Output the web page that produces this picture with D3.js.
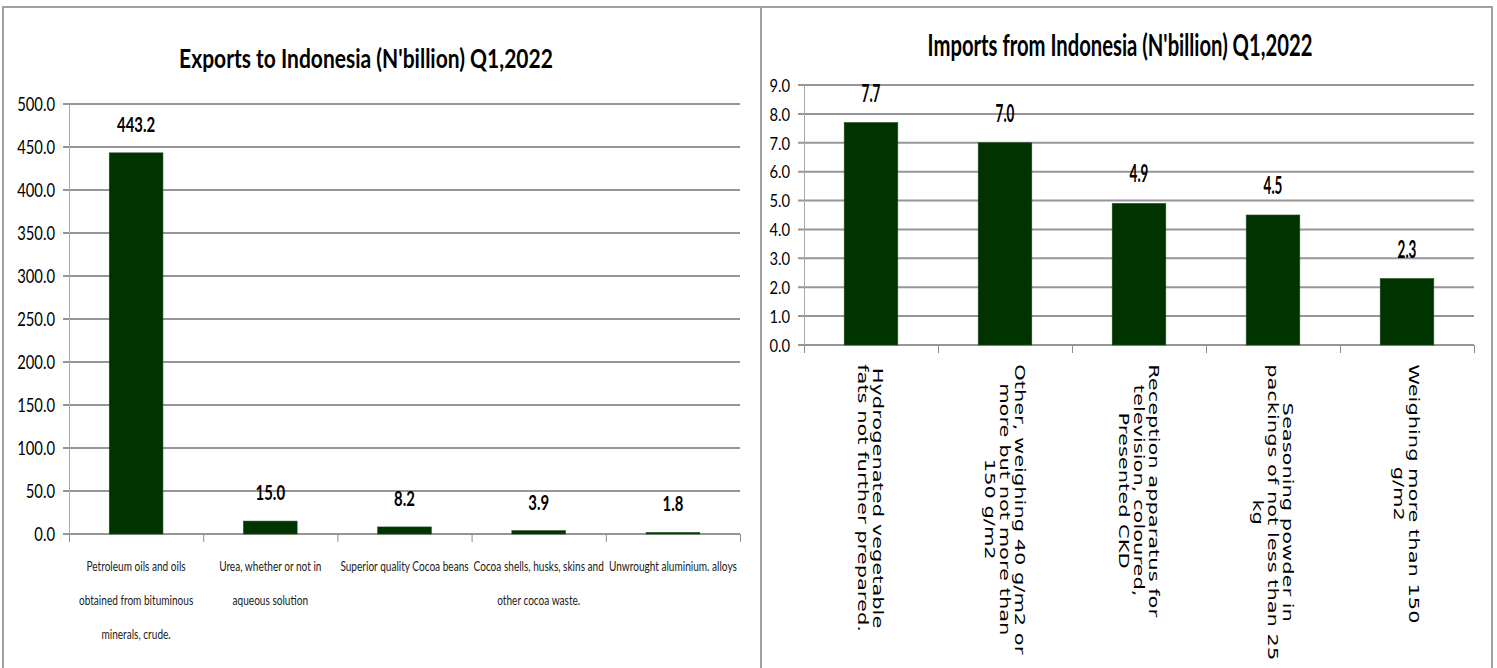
<!DOCTYPE html>
<html>
<head>
<meta charset="utf-8">
<script src="https://cdn.jsdelivr.net/npm/d3@7"></script>
<style>
  body { margin: 0; background: #fff; }
  svg { display: block; }
</style>
</head>
<body>
<svg id="chart" width="1497" height="668"></svg>
<script>
// ---- data ----
var exportTitle = "Exports to Indonesia (N'billion) Q1,2022";
var exportCategories = [
    ["Petroleum oils and oils", "obtained from bituminous", "minerals, crude."],
    ["Urea, whether or not in", "aqueous solution"],
    ["Superior quality Cocoa beans"],
    ["Cocoa shells, husks, skins and", "other cocoa waste."],
    ["Unwrought aluminium. alloys"]
];
var exportValues = [443.2, 15.0, 8.2, 3.9, 1.8];
var exportTicks = [0, 50, 100, 150, 200, 250, 300, 350, 400, 450, 500];

var importTitle = "Imports from Indonesia (N'billion) Q1,2022";
var importCategories = [
    ["Hydrogenated vegetable", "fats not further prepared."],
    ["Other, weighing 40 g/m2 or", "more but not more than", "150 g/m2"],
    ["Reception apparatus for", "television, coloured,", "Presented CKD"],
    ["Seasoning powder in", "packings of not less than 25", "kg"],
    ["Weighing more than 150", "g/m2"]
];
var importValues = [7.7, 7.0, 4.9, 4.5, 2.3];
var importTicks = [0, 1, 2, 3, 4, 5, 6, 7, 8, 9];

var svg = d3.select("#chart");
var FONT = "Lato, 'Open Sans', sans-serif";
var BAR = "#003300";
var GRID = "#969696";
var fmt = d3.format(".1f");

// panel frames
svg.append("rect").attr("x", 3).attr("y", 7).attr("width", 758).attr("height", 700)
    .attr("fill", "none").attr("stroke", "#a0a0a0").attr("stroke-width", 2);
svg.append("rect").attr("x", 761).attr("y", 7).attr("width", 731).attr("height", 700)
    .attr("fill", "none").attr("stroke", "#a0a0a0").attr("stroke-width", 2);

// squeezed text (the picture is stretched tall), anchored at x,y
function squeezed(g, str, x, y, size, sx, bold) {
    return g.append("text")
        .attr("transform", "translate(" + x + "," + y + ") scale(" + sx + ",1)")
        .attr("text-anchor", "middle")
        .style("font-family", FONT)
        .style("font-size", size + "px")
        .style("font-weight", bold ? "bold" : "normal")
        .attr("fill", "#000")
        .text(str);
}

function fitTitle(g, str, cx, y, size, width) {
    var t = squeezed(g, str, cx, y, size, 1, true);
    var w = t.node().getComputedTextLength();
    t.attr("transform", "translate(" + cx + "," + y + ") scale(" + (width / w) + ",1)");
}

function barChart(c) {
    var g = svg.append("g");
    var x = d3.scaleBand().domain(d3.range(c.values.length))
        .range([c.left, c.right]).paddingInner(0.6).paddingOuter(0.3);
    var y = d3.scaleLinear().domain([0, d3.max(c.ticks)]).range([c.bottom, c.top]);

    // gridlines with the outer tick marks
    g.append("g").selectAll("line").data(c.ticks).enter().append("line")
        .attr("x1", c.left - 6).attr("x2", c.right)
        .attr("y1", function(d) { return y(d); }).attr("y2", function(d) { return y(d); })
        .attr("stroke", GRID).attr("stroke-width", 2);

    // y axis
    var yAxis = d3.axisLeft(y).tickValues(c.ticks).tickFormat(fmt).tickSize(0).tickPadding(0);
    var ya = g.append("g").attr("transform", "translate(" + c.left + ",0)").call(yAxis);
    ya.select(".domain").attr("stroke", "#a8a8a8").attr("stroke-width", 1);
    ya.selectAll(".tick text")
        .attr("x", -c.labelGap / c.tickSx)
        .attr("dy", "0.35em")
        .attr("transform", "scale(" + c.tickSx + ",1)")
        .style("font-family", FONT).style("font-size", c.tickSize + "px").attr("fill", "#000");

    // x axis ticks on category boundaries
    var xb = d3.scaleLinear().domain([0, c.values.length]).range([c.left, c.right]);
    var xAxis = d3.axisBottom(xb).ticks(c.values.length).tickFormat("").tickSize(8).tickSizeOuter(0);
    var xa = g.append("g").attr("transform", "translate(0," + c.bottom + ")").call(xAxis);
    xa.select(".domain").remove();
    xa.selectAll(".tick line").attr("stroke", "#8c8c8c").attr("stroke-width", 1);

    // bars
    g.append("g").selectAll("rect").data(c.values).enter().append("rect")
        .attr("x", function(d, i) { return x(i); })
        .attr("width", x.bandwidth())
        .attr("y", function(d) { return y(d); })
        .attr("height", function(d) { return c.bottom - y(d); })
        .attr("fill", BAR).attr("stroke", "#1f4d1f").attr("stroke-width", 0.6);

    // data labels
    c.values.forEach(function(v, i) {
        squeezed(g, fmt(v), x(i) + x.bandwidth() / 2, y(v) - 21, c.valSize, c.valSx, true);
    });

    return {g: g, x: x, y: y};
}

// ---- left: exports ----
var left = barChart({
    left: 69, right: 740, top: 104, bottom: 534,
    values: exportValues, ticks: exportTicks,
    tickSize: 19, tickSx: 0.78, labelGap: 14,
    valSize: 21, valSx: 0.71
});
fitTitle(left.g, exportTitle, 366, 68, 26, 374);
exportCategories.forEach(function(lines, i) {
    var cx = left.x(i) + left.x.bandwidth() / 2;
    lines.forEach(function(s, j) {
        squeezed(left.g, s, cx, 571 + j * 34, 14, 0.72, false).attr("fill", "#1a1a1a");
    });
});

// ---- right: imports ----
var right = barChart({
    left: 804, right: 1474, top: 85, bottom: 345,
    values: importValues, ticks: importTicks,
    tickSize: 18, tickSx: 0.82, labelGap: 14,
    valSize: 24, valSx: 0.56
});
fitTitle(right.g, importTitle, 1120, 56, 30, 385);

var stretch = 1.5, lh = 15, labelTop = 364;
importCategories.forEach(function(lines, i) {
    var cx = right.x(i) + right.x.bandwidth() / 2;
    var grp = right.g.append("g");
    var texts = lines.map(function(s, j) {
        return grp.append("text")
            .attr("text-anchor", "middle")
            .attr("dominant-baseline", "central")
            .attr("y", (j - (lines.length - 1) / 2) * lh)
            .style("font-family", "'DejaVu Sans', sans-serif")
            .style("font-size", "14px")
            .attr("fill", "#000")
            .text(s);
    });
    var maxLen = d3.max(texts, function(t) { return t.node().getComputedTextLength(); }) * stretch;
    grp.attr("transform", "translate(" + cx + "," + (labelTop + maxLen / 2) + ") rotate(90) scale(" + stretch + ",1)");
});
</script>
</body>
</html>
